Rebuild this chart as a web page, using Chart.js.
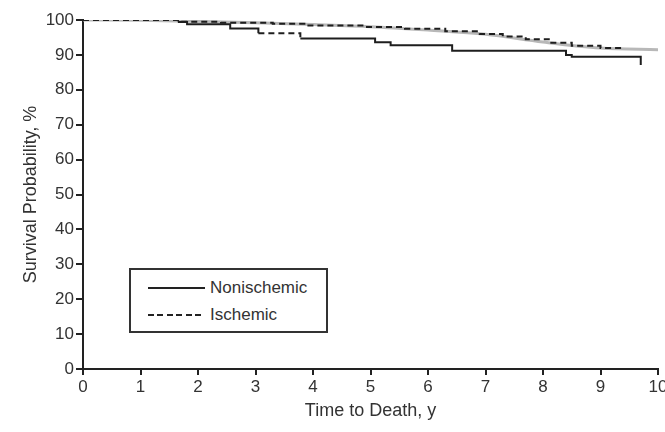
<!DOCTYPE html>
<html>
<head>
<meta charset="utf-8">
<script src="https://cdn.jsdelivr.net/npm/chart.js@4.4.1/dist/chart.umd.min.js"></script>
<style>
html,body{margin:0;padding:0;overflow:hidden;background:#fff;width:665px;height:432px}
#wrap{position:absolute;left:0;top:0;width:680px;height:432px}
#legend{position:absolute;left:129px;top:268px;width:195px;height:61px;border:2px solid #333;background:#fff;
  font-family:'Liberation Sans',Arial,sans-serif;font-size:17px;color:#333}
#legend .sw{position:absolute;left:17px;width:57px;height:2px}
#legend .solid{background:#222}
#legend .dash{background:repeating-linear-gradient(to right,#222 0 6px,transparent 6px 9.5px)}
#legend .tx{position:absolute;left:79px;line-height:20px;white-space:nowrap}
</style>
</head>
<body>
<div id="wrap"><canvas id="c"></canvas></div>
<div id="legend">
  <div class="sw solid" style="top:17px"></div><div class="tx" style="top:8px">Nonischemic</div>
  <div class="sw dash" style="top:44px"></div><div class="tx" style="top:35px">Ischemic</div>
</div>
<script>
// ---- data ----
const xTickMax = 10;
const yTickMax = 100;

const nonIschemicYears = [0, 1.65, 1.81, 2.56, 3.05, 3.78, 5.08, 5.35, 6.42, 8.4, 8.5, 9.7];
const nonIschemicSurv  = [100, 99.4, 98.8, 97.6, 96.2, 94.7, 93.6, 92.8, 91.2, 90.0, 89.5, 87.1];

const ischemicYears = [0, 1.7, 2.4, 3.3, 3.85, 4.9, 5.6, 6.3, 6.9, 7.3, 7.7, 8.1, 8.5, 9.0, 9.4];
const ischemicSurv  = [100, 99.5, 99.2, 98.9, 98.4, 98.0, 97.5, 96.8, 96.0, 95.3, 94.5, 93.5, 92.6, 92.0, 91.7];

const referenceYears = [0, 1, 2, 3, 4, 5, 6, 7, 8, 9, 10];
const referenceSurv  = [100, 99.9, 99.6, 99.2, 98.7, 98.1, 97.1, 95.9, 93.7, 92.0, 91.5];

const toPts = (xs, ys) => xs.map((x, i) => ({x, y: ys[i]}));

Chart.defaults.font.family = "'Liberation Sans', Arial, sans-serif";
Chart.defaults.font.size = 17;
Chart.defaults.color = '#333';

new Chart(document.getElementById('c'), {
  type: 'line',
  data: {
    datasets: [
      {
        label: 'Nonischemic',
        data: toPts(nonIschemicYears, nonIschemicSurv),
        stepped: 'before',
        borderColor: '#1e1e1e',
        borderWidth: 2,
        pointRadius: 0,
        fill: false,
        segment: {
          borderDash: ctx => {
            const x = ctx.p0.parsed.x;
            return (x < 1.5 || (x >= 3 && x < 3.7)) ? [6, 4] : undefined;
          }
        }
      },
      {
        label: 'Ischemic',
        data: toPts(ischemicYears, ischemicSurv),
        stepped: 'before',
        borderColor: '#1e1e1e',
        borderWidth: 2,
        borderDash: [6, 4],
        pointRadius: 0,
        fill: false
      },
      {
        label: 'Reference',
        data: toPts(referenceYears, referenceSurv),
        borderColor: '#b8b8b8',
        borderWidth: 3,
        pointRadius: 0,
        cubicInterpolationMode: 'monotone',
        fill: false
      }
    ]
  },
  options: {
    responsive: true,
    maintainAspectRatio: false,
    animation: false,
    devicePixelRatio: 1,
    layout: { padding: { top: 20, right: 22, bottom: 0, left: 0 } },
    plugins: { legend: { display: false }, tooltip: { enabled: false } },
    scales: {
      x: {
        type: 'linear',
        min: 0, max: xTickMax,
        ticks: { stepSize: 1, padding: 2, color: '#333', font: { size: 17 } },
        grid: { drawOnChartArea: false, drawTicks: true, tickLength: 6, color: '#222', lineWidth: 2 },
        border: { display: true, color: '#222', width: 2 },
        title: { display: true, text: 'Time to Death, y', color: '#333', font: { size: 18 }, padding: { top: 0, bottom: 10 } },
        afterFit: s => { s.height = 63; }
      },
      y: {
        type: 'linear',
        min: 0, max: yTickMax,
        ticks: { stepSize: 10, padding: 2, color: '#333', font: { size: 17 } },
        grid: { drawOnChartArea: false, drawTicks: true, tickLength: 7, color: '#222', lineWidth: 2 },
        border: { display: true, color: '#222', width: 2 },
        title: { display: true, text: 'Survival Probability, %', color: '#333', font: { size: 18 }, padding: { top: 20, bottom: 0 } },
        afterFit: s => { s.width = 83; }
      }
    }
  }
});
</script>
</body>
</html>
